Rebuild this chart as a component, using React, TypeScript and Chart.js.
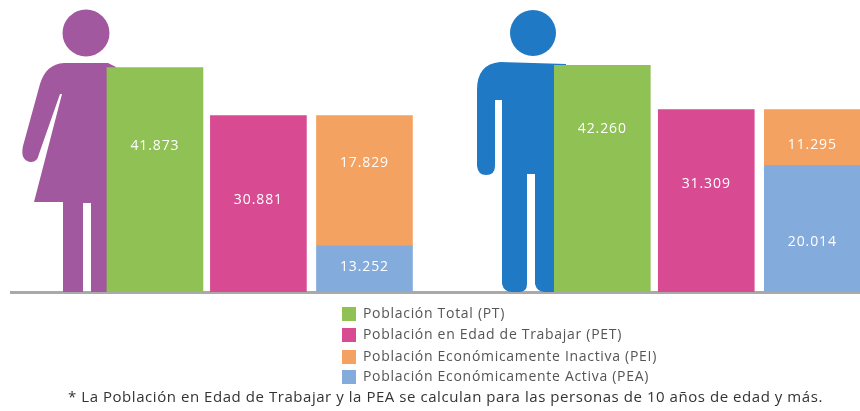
import React, { useEffect, useRef } from "react";
import { Chart, registerables } from "chart.js";

Chart.register(...registerables);

// Printed figures, as labelled in the picture.
const labelsFemale = ["41.873", "30.881", "13.252", "17.829"];
const labelsMale = ["42.260", "31.309", "20.014", "11.295"];

// Bar heights as drawn. The original infographic is not strictly proportional
// to its printed figures, so heights are read from the picture separately.
const ptHeights = [41873, 42260];
const petHeights = [32900, 34000];
const peaHeights = [8600, 23560];
const peiHeights = [24300, 10470];

// Bar groups: x slots of the three bars for each sex.
const ptSlots = [0, 4.26];
const petSlots = [0.985, 5.25];
const stackSlots = [1.995, 6.26];

const seriesNames = [
  "Población Total (PT)",
  "Población en Edad de Trabajar (PET)",
  "Población Económicamente Activa (PEA)",
  "Población Económicamente Inactiva (PEI)",
];
const seriesColors = ["#8fc155", "#d84a92", "#83abdc", "#f4a262"];
const legendOrder = [0, 1, 3, 2];
const footnote = "* La Población en Edad de Trabajar y la PEA se calculan para las personas de 10 años de edad y más.";

// Pixel nudges of the value labels from each bar's centre, per dataset then per group.
const labelShift = [[-34, -50], [-4, -17], [-2, 13], [-18, 7]];

const FONT = '"Open Sans", sans-serif';

function drawFemale(ctx: CanvasRenderingContext2D) {
  ctx.fillStyle = "#a2589f";
  ctx.beginPath();
  ctx.arc(86, 33, 23.5, 0, Math.PI * 2);
  ctx.fill();
  ctx.beginPath();
  ctx.moveTo(116, 67);
  ctx.lineTo(108, 63);
  ctx.lineTo(64, 63);
  ctx.quadraticCurveTo(46, 64, 40, 84);
  ctx.lineTo(23, 146);
  ctx.quadraticCurveTo(20, 160, 30, 162);
  ctx.quadraticCurveTo(37, 163, 39, 154);
  ctx.lineTo(60, 94);
  ctx.lineTo(62, 94);
  ctx.lineTo(34, 202);
  ctx.lineTo(63, 202);
  ctx.lineTo(63, 292);
  ctx.lineTo(83, 292);
  ctx.lineTo(83, 203);
  ctx.lineTo(91, 203);
  ctx.lineTo(91, 292);
  ctx.lineTo(116, 292);
  ctx.closePath();
  ctx.fill();
}

function drawMale(ctx: CanvasRenderingContext2D) {
  ctx.fillStyle = "#2079c4";
  ctx.beginPath();
  ctx.arc(533, 33, 23, 0, Math.PI * 2);
  ctx.fill();
  ctx.beginPath();
  ctx.moveTo(566, 64);
  ctx.lineTo(500, 62);
  ctx.quadraticCurveTo(477, 64, 477, 90);
  ctx.lineTo(477, 166);
  ctx.quadraticCurveTo(478, 175, 486, 175);
  ctx.quadraticCurveTo(495, 175, 495, 166);
  ctx.lineTo(495, 100);
  ctx.lineTo(502, 100);
  ctx.lineTo(502, 284);
  ctx.quadraticCurveTo(504, 292, 512, 292);
  ctx.lineTo(519, 292);
  ctx.quadraticCurveTo(527, 292, 527, 284);
  ctx.lineTo(527, 174);
  ctx.lineTo(535, 174);
  ctx.lineTo(535, 284);
  ctx.quadraticCurveTo(537, 292, 545, 292);
  ctx.lineTo(566, 292);
  ctx.closePath();
  ctx.fill();
}

const pictograms = {
  id: "pictograms",
  beforeDatasetsDraw(chart: Chart) {
    const { ctx } = chart;
    ctx.save();
    drawFemale(ctx);
    drawMale(ctx);
    ctx.restore();
  },
};

const valueLabels = {
  id: "valueLabels",
  afterDatasetsDraw(chart: Chart) {
    const { ctx } = chart;
    ctx.save();
    ctx.fillStyle = "#ffffff";
    ctx.font = `14px ${FONT}`;
    (ctx as any).letterSpacing = "0.9px";
    ctx.textAlign = "center";
    ctx.textBaseline = "middle";
    chart.data.datasets.forEach((_, d) => {
      chart.getDatasetMeta(d).data.forEach((bar: any, g: number) => {
        const props = bar.getProps(["x", "y", "base"], true);
        const text = (g === 0 ? labelsFemale : labelsMale)[d];
        ctx.fillText(text, props.x, (props.y + props.base) / 2 + labelShift[d][g]);
      });
    });
    ctx.restore();
  },
};

const legendAndNote = {
  id: "legendAndNote",
  afterDraw(chart: Chart) {
    const { ctx } = chart;
    ctx.save();
    ctx.textBaseline = "middle";
    ctx.textAlign = "left";
    ctx.font = `14px ${FONT}`;
    (ctx as any).letterSpacing = "0.7px";
    const rows = [314, 335, 357, 377];
    legendOrder.forEach((s, i) => {
      ctx.fillStyle = seriesColors[s];
      ctx.fillRect(342, rows[i] - 7, 14, 14);
      ctx.fillStyle = "#555555";
      ctx.fillText(seriesNames[s], 363, rows[i]);
    });
    ctx.font = `15px ${FONT}`;
    (ctx as any).letterSpacing = "0.55px";
    ctx.fillStyle = "#333333";
    ctx.fillText(footnote, 68, 398);
    ctx.restore();
  },
};

export default function App() {
  const ref = useRef<HTMLCanvasElement>(null);
  useEffect(() => {
    const heights = [ptHeights, petHeights, peaHeights, peiHeights];
    const slots = [ptSlots, petSlots, stackSlots, stackSlots];
    const chart = new Chart(ref.current!, {
      type: "bar",
      data: {
        datasets: seriesNames.map((label, d) => ({
          label,
          backgroundColor: seriesColors[d],
          barThickness: 96,
          borderWidth: 0,
          data: heights[d].map((y, g) => ({ x: slots[d][g], y })),
        })),
      },
      options: {
        responsive: false,
        animation: false,
        layout: { padding: { left: 11, right: 0, top: 0, bottom: 111 } },
        plugins: { legend: { display: false }, tooltip: { enabled: false } },
        scales: {
          x: {
            type: "linear",
            stacked: true,
            offset: false,
            min: -1.371,
            max: 6.714,
            grid: { display: false },
            ticks: { display: false },
            border: { color: "#a9a9a9", width: 3 },
          },
          y: { stacked: true, display: false, min: 0, max: 54458 },
        },
      },
      plugins: [pictograms, valueLabels, legendAndNote],
    } as any);
    return () => chart.destroy();
  }, []);
  return (
    <div style={{ position: "absolute", left: 0, top: 0, width: 860, height: 411 }}>
      <canvas ref={ref} width={860} height={411} style={{ display: "block" }} />
    </div>
  );
}
